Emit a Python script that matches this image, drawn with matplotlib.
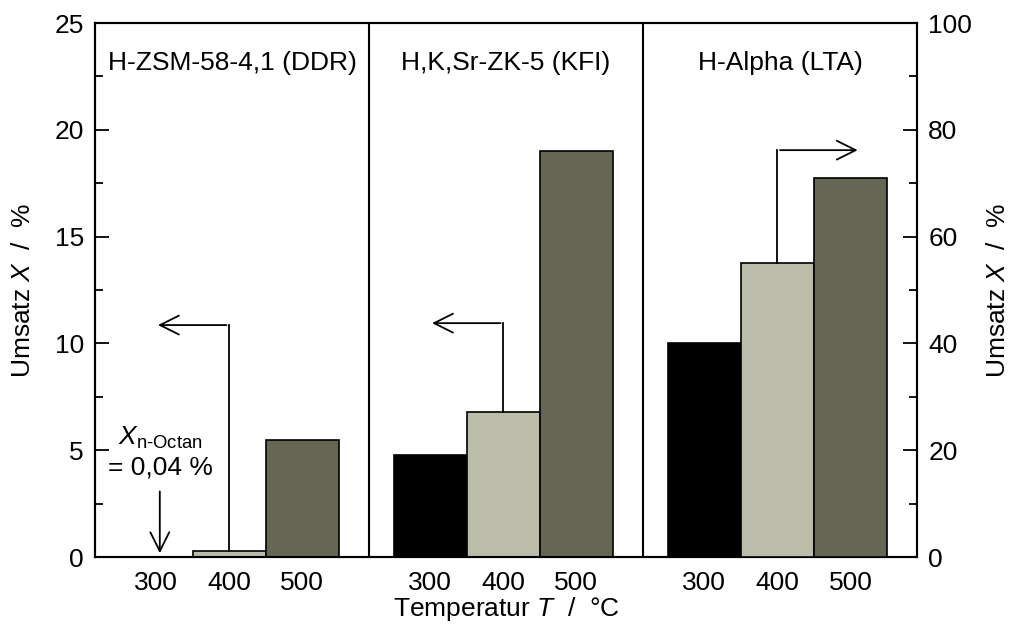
import matplotlib.pyplot as plt

plt.rcParams['font.family'] = ['Liberation Sans', 'DejaVu Sans']
plt.rcParams['mathtext.fontset'] = 'custom'
plt.rcParams['mathtext.rm'] = 'Liberation Sans'
plt.rcParams['mathtext.it'] = 'Liberation Sans:italic'

# data
catalysts = ['H-ZSM-58-4,1 (DDR)', 'H,K,Sr-ZK-5 (KFI)', 'H-Alpha (LTA)']
temperatures = ['300', '400', '500']
conv_ddr = [0.04, 0.3, 5.5]     # left axis
conv_kfi = [4.8, 6.8, 19.0]     # left axis
conv_lta = [40.0, 55.0, 71.0]   # right axis

colors = ['#000000', '#bbbcaa', '#656654']
bar_w = 0.8
offset = 0.67

fig = plt.figure(figsize=(10.1, 6.41), dpi=100)
ax = fig.add_axes([0.094, 0.131, 0.814, 0.833])
ax2 = ax.twinx()

fs = 19

def centers(panel):
    return [panel * 3 + offset + bar_w * i for i in range(3)]

for p, vals in enumerate([conv_ddr, conv_kfi]):
    ax.bar(centers(p), vals, width=bar_w, color=colors, edgecolor='black', linewidth=1.2, zorder=3)
ax2.bar(centers(2), conv_lta, width=bar_w, color=colors, edgecolor='black', linewidth=1.2, zorder=3)
# the 0,04 % bar is too small to be seen in the original
ax.patches[0].set_visible(False)

ax.set_xlim(0, 9)
ax.set_ylim(0, 25)
ax2.set_ylim(0, 100)

# panel separators
for xs in [3, 6]:
    ax.axvline(xs, color='black', lw=1.5)

# titles in panels
for p, name in enumerate(catalysts):
    ax.text(p * 3 + 1.5, 23.15, name, ha='center', va='center', fontsize=fs)

# x ticks
ticks = centers(0) + centers(1) + centers(2)
ax.set_xticks(ticks)
ax.set_xticklabels(temperatures * 3)
ax.tick_params(axis='x', length=0, pad=10, labelsize=fs)

ax.set_yticks([0, 5, 10, 15, 20, 25])
ax.set_yticks([2.5, 7.5, 12.5, 17.5, 22.5], minor=True)
ax.tick_params(axis='y', which='major', direction='in', length=10, width=1.3, labelsize=fs, pad=8)
ax.tick_params(axis='y', which='minor', direction='in', length=6, width=1.3)

ax2.set_yticks([0, 20, 40, 60, 80, 100])
ax2.set_yticks([10, 30, 50, 70, 90], minor=True)
ax2.tick_params(axis='y', which='major', direction='in', length=10, width=1.3, labelsize=fs, pad=8)
ax2.tick_params(axis='y', which='minor', direction='in', length=6, width=1.3)

for a in (ax, ax2):
    for s in a.spines.values():
        s.set_linewidth(1.5)

ax.set_ylabel('Umsatz $\\it{X}$  /  %', fontsize=fs, labelpad=14)
ax2.set_ylabel('Umsatz $\\it{X}$  /  %', fontsize=fs, labelpad=10)
ax.set_xlabel('Temperatur $\\it{T}$  /  °C', fontsize=fs, labelpad=0)

# arrows pointing to the axis used
arrow_kw = dict(arrowstyle='->', color='black', lw=1.3, mutation_scale=34)
ax.plot([1.47, 1.47], [conv_ddr[1], 10.86], color='black', lw=1.3, zorder=4)
ax.annotate('', xy=(0.66, 10.86), xytext=(1.47, 10.86), arrowprops=arrow_kw)
ax.plot([4.47, 4.47], [conv_kfi[1], 10.95], color='black', lw=1.3, zorder=4)
ax.annotate('', xy=(3.66, 10.95), xytext=(4.47, 10.95), arrowprops=arrow_kw)
ax2.plot([7.47, 7.47], [conv_lta[1], 76.2], color='black', lw=1.3, zorder=4)
ax2.annotate('', xy=(8.38, 76.2), xytext=(7.47, 76.2), arrowprops=arrow_kw)

# annotation of the tiny DDR value
ax.text(0.72, 5.6, '$\\it{X}_{\\rm{n}\\text{-}\\rm{Octan}}$', ha='center', va='center', fontsize=fs)
ax.text(0.72, 4.2, '= 0,04 %', ha='center', va='center', fontsize=fs)
ax.annotate('', xy=(0.71, 0.05), xytext=(0.71, 3.2),
            arrowprops=dict(arrowstyle='->', color='black', lw=1.3, mutation_scale=34))

fig.savefig('out.png', dpi=100)
